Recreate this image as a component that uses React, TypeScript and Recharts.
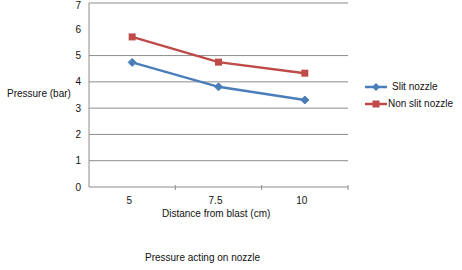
import React from "react";
import { LineChart, Line, XAxis, YAxis, CartesianGrid } from "recharts";

const distances = ["5", "7.5", "10"];
const slitNozzle = [4.74, 3.81, 3.31];
const nonSlitNozzle = [5.71, 4.75, 4.33];
const yTicks = [0, 1, 2, 3, 4, 5, 6, 7];

const BLUE = "#4A7EBB";
const RED = "#BE4B48";
const GRID = "#8C8C8C";
const FONT = "'Liberation Sans', Arial, sans-serif";

const data = distances.map((d, i) => ({
  distance: d,
  slit: slitNozzle[i],
  nonSlit: nonSlitNozzle[i],
}));

const PLOT_LEFT = 89;
const PLOT_RIGHT = 348;
const BAND = (PLOT_RIGHT - PLOT_LEFT) / distances.length;

const Diamond = (props: any) => {
  const { cx, cy } = props;
  if (cx == null || cy == null) return null;
  const r = 4;
  return (
    <path
      d={`M${cx},${cy - r} L${cx + r},${cy} L${cx},${cy + r} L${cx - r},${cy} Z`}
      fill={BLUE}
      stroke={BLUE}
    />
  );
};

const Square = (props: any) => {
  const { cx, cy } = props;
  if (cx == null || cy == null) return null;
  const s = 3.5;
  return <rect x={cx - s} y={cy - s} width={s * 2} height={s * 2} fill={RED} />;
};

// Category label at the band centre, tick mark at the band's right edge
const XTick = (props: any) => {
  const { x, y, payload } = props;
  const edge = x + BAND / 2;
  return (
    <g>
      <line x1={edge} x2={edge} y1={y - 10} y2={y - 5} stroke={GRID} strokeWidth={1} />
      <text x={x - 3} y={y + 9} textAnchor="middle" fontSize={10} fontFamily={FONT} fill="#111">
        {payload.value}
      </text>
    </g>
  );
};

const textStyle: React.CSSProperties = {
  position: "absolute",
  fontFamily: FONT,
  fontSize: 10,
  color: "#111",
  whiteSpace: "nowrap",
  lineHeight: "12px",
};

export default function App() {
  return (
    <div style={{ position: "absolute", left: 0, top: 0, width: 462, height: 270, background: "#fff" }}>
      <LineChart
        width={462}
        height={270}
        data={data}
        margin={{ top: 3, right: 462 - PLOT_RIGHT, bottom: 63, left: PLOT_LEFT - 20 }}
      >
        <CartesianGrid vertical={false} stroke={GRID} strokeWidth={1} />
        <XAxis
          dataKey="distance"
          axisLine={false}
          tickLine={false}
          height={20}
          interval={0}
          padding={{ left: BAND / 2, right: BAND / 2 }}
          tick={<XTick />}
        />
        <YAxis
          domain={[0, 7]}
          ticks={yTicks}
          width={20}
          axisLine={{ stroke: GRID }}
          tickLine={false}
          tick={{ fontSize: 10, fontFamily: FONT, fill: "#111" }}
        />
        <Line
          dataKey="slit"
          stroke={BLUE}
          strokeWidth={2.5}
          dot={<Diamond />}
          isAnimationActive={false}
        />
        <Line
          dataKey="nonSlit"
          stroke={RED}
          strokeWidth={2.5}
          dot={<Square />}
          isAnimationActive={false}
        />
      </LineChart>

      <div style={{ ...textStyle, left: 7, top: 88 }}>Pressure (bar)</div>
      <div style={{ ...textStyle, left: 162, top: 208 }}>Distance from blast (cm)</div>
      <div style={{ ...textStyle, left: 145, top: 252 }}>Pressure acting on nozzle</div>

      <svg style={{ position: "absolute", left: 360, top: 78 }} width={30} height={34}>
        <line x1={5} x2={27} y1={9} y2={9} stroke={BLUE} strokeWidth={2.5} />
        <path d="M16,5 L20,9 L16,13 L12,9 Z" fill={BLUE} />
        <line x1={5} x2={27} y1={26} y2={26} stroke={RED} strokeWidth={2.5} />
        <rect x={12.5} y={22.5} width={7} height={7} fill={RED} />
      </svg>
      <div style={{ ...textStyle, left: 392, top: 81 }}>Slit nozzle</div>
      <div style={{ ...textStyle, left: 388, top: 98 }}>Non slit nozzle</div>
    </div>
  );
}
